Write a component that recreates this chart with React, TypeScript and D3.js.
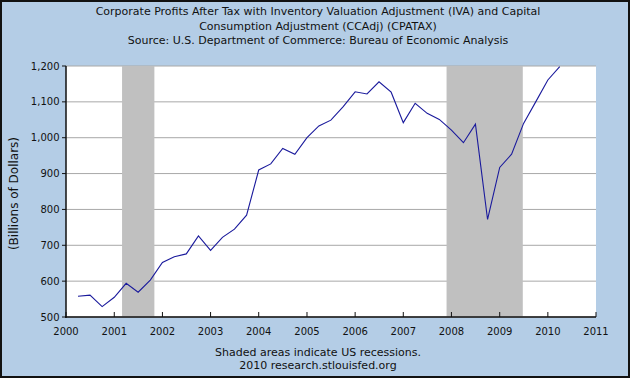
import React from "react";
import * as d3 from "d3";

const titleLines = [
  "Corporate Profits After Tax with Inventory Valuation Adjustment (IVA) and Capital",
  "Consumption Adjustment (CCAdj) (CPATAX)",
  "Source: U.S. Department of Commerce: Bureau of Economic Analysis",
];
const footerLines = ["Shaded areas indicate US recessions.", "2010 research.stlouisfed.org"];
const yLabel = "(Billions of Dollars)";

const dates = [
  "2000-04-01", "2000-07-01", "2000-10-01",
  "2001-01-01", "2001-04-01", "2001-07-01", "2001-10-01",
  "2002-01-01", "2002-04-01", "2002-07-01", "2002-10-01",
  "2003-01-01", "2003-04-01", "2003-07-01", "2003-10-01",
  "2004-01-01", "2004-04-01", "2004-07-01", "2004-10-01",
  "2005-01-01", "2005-04-01", "2005-07-01", "2005-10-01",
  "2006-01-01", "2006-04-01", "2006-07-01", "2006-10-01",
  "2007-01-01", "2007-04-01", "2007-07-01", "2007-10-01",
  "2008-01-01", "2008-04-01", "2008-07-01", "2008-10-01",
  "2009-01-01", "2009-04-01", "2009-07-01", "2009-10-01",
  "2010-01-01", "2010-04-01",
];
const values = [
  558, 561, 529,
  555, 594, 569, 603,
  652, 668, 676, 726,
  686, 722, 745, 784,
  910, 927, 970, 954,
  1000, 1033, 1049, 1086,
  1128, 1122, 1156, 1127,
  1042, 1096, 1068, 1051,
  1021, 986, 1038, 772,
  917, 954, 1040, 1100,
  1161, 1198,
];
const recessionStarts = ["2001-03-01", "2007-11-25"];
const recessionEnds = ["2001-11-01", "2009-06-25"];
const yTicks = [500, 600, 700, 800, 900, 1000, 1100, 1200];
const xTickYears = [2000, 2001, 2002, 2003, 2004, 2005, 2006, 2007, 2008, 2009, 2010, 2011];

const W = 630, H = 378;
const L = 66, R = 596, T = 66, B = 317;
const FONT = "'DejaVu Sans', Verdana, sans-serif";

export default function App() {
  const parse = d3.utcParse("%Y-%m-%d");
  const x = d3.scaleUtc()
    .domain([new Date(Date.UTC(2000, 0, 1)), new Date(Date.UTC(2011, 0, 1))])
    .range([L, R]);
  const y = d3.scaleLinear().domain([500, 1200]).range([B, T]);
  const pts = dates.map((d, i) => ({ d: parse(d)!, v: values[i] }));
  const line = d3.line<{ d: Date; v: number }>().x(p => x(p.d)).y(p => y(p.v));
  const cx = 318;

  return (
    <svg width={W} height={H} style={{ position: "absolute", left: 0, top: 0 }} fontFamily={FONT}>
      <defs>
        <clipPath id="plot"><rect x={L} y={T} width={R - L} height={B - T} /></clipPath>
      </defs>
      <rect x={0} y={0} width={W} height={H} fill="#b4cde6" />
      <rect x={1} y={1} width={W - 2} height={H - 2} fill="none" stroke="#111" strokeWidth={2} />
      <rect x={L} y={T} width={R - L} height={B - T} fill="#fff" />
      {titleLines.map((t, i) => (
        <text key={i} x={cx} y={15.3 + i * 14.2} textAnchor="middle" fontSize={11} fill="#111">{t}</text>
      ))}
      {yTicks.map(v => (
        <line key={v} x1={L} x2={R} y1={y(v)} y2={y(v)} stroke="#a8a8a8" strokeWidth={1} />
      ))}
      {recessionStarts.map((s, i) => (
        <rect key={i} x={x(parse(s)!)} y={T} width={x(parse(recessionEnds[i])!) - x(parse(s)!)}
          height={B - T} fill="#c0c0c0" />
      ))}
      <path d={line(pts) ?? ""} fill="none" stroke="#1a1a9c" strokeWidth={1.1} clipPath="url(#plot)" />
      {xTickYears.map(yr => {
        const xx = x(new Date(Date.UTC(yr, 0, 1)));
        return (
          <g key={yr}>
            <line x1={xx} x2={xx} y1={B} y2={B - 5} stroke="#111" strokeWidth={1} />
            <text x={xx} y={334.5} textAnchor="middle" fontSize={10} fill="#111">{yr}</text>
          </g>
        );
      })}
      {yTicks.map(v => (
        <g key={v}>
          <line x1={L - 4} x2={L} y1={y(v)} y2={y(v)} stroke="#111" strokeWidth={1} />
          <text x={59.5} y={y(v) + 3.6} textAnchor="end" fontSize={10} fill="#111">{d3.format(",")(v)}</text>
        </g>
      ))}
      <line x1={L} x2={L} y1={T} y2={B + 1} stroke="#111" strokeWidth={1.5} />
      <line x1={L - 1} x2={R} y1={B} y2={B} stroke="#111" strokeWidth={1.5} />
      <text transform={`translate(18,${(T + B) / 2 + 2}) rotate(-90)`} textAnchor="middle" fontSize={12} fill="#111">{yLabel}</text>
      {footerLines.map((t, i) => (
        <text key={i} x={cx} y={355.7 + i * 13.3} textAnchor="middle" fontSize={11} fill="#111">{t}</text>
      ))}
    </svg>
  );
}
